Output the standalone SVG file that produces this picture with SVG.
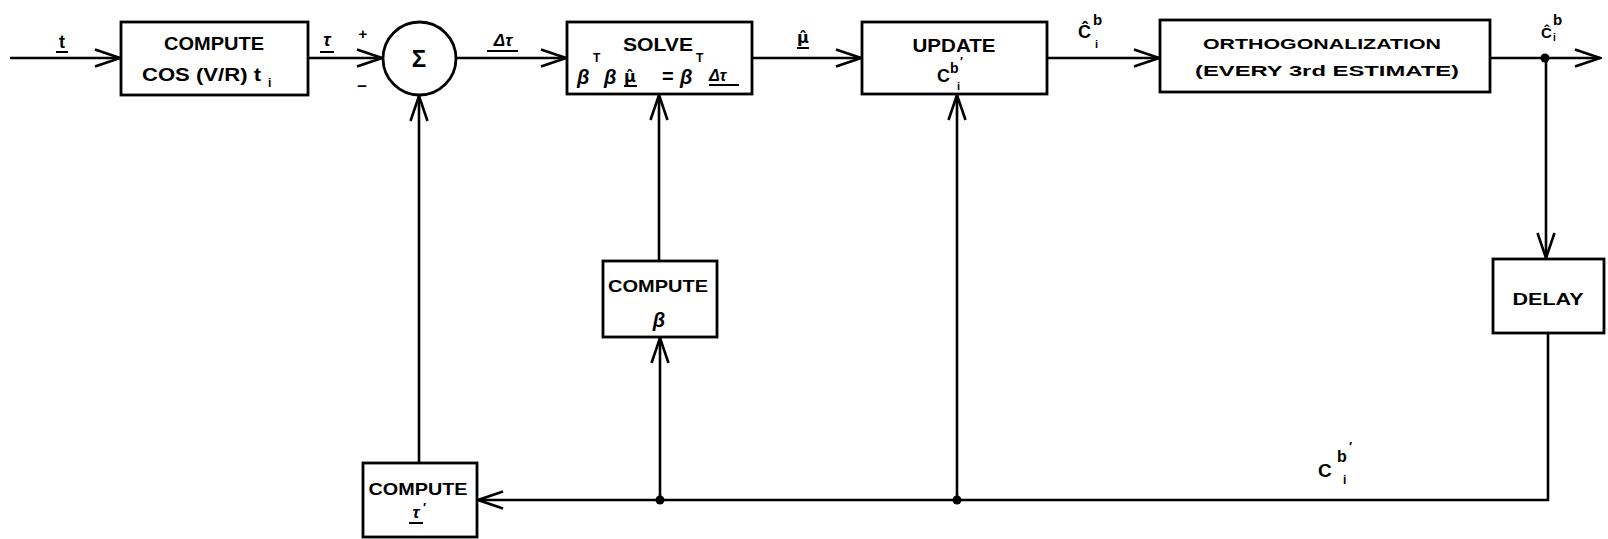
<svg xmlns="http://www.w3.org/2000/svg" width="1608" height="539" viewBox="0 0 1608 539">
<style>
.ln{stroke:#000;stroke-width:2.6;fill:none}
.box{fill:#fff;stroke:#000;stroke-width:2.8}
.t{font-family:"Liberation Sans",Arial,sans-serif;font-weight:bold;fill:#000}
.dj{font-family:"DejaVu Sans",sans-serif}
.c{text-anchor:middle}
.g{font-style:italic}
.ul{stroke:#000;stroke-width:2}
</style>
<defs>
<marker id="ah" viewBox="-27 -10 29 20" refX="0" refY="0" markerWidth="29" markerHeight="20" markerUnits="userSpaceOnUse" orient="auto">
<path d="M-25,-8.5 L0,0 L-25,8.5" fill="none" stroke="#000" stroke-width="2.6"/>
</marker>
</defs>
<rect width="1608" height="539" fill="#fff"/>

<g id="connectors">
<path class="ln" d="M10,58 H120" marker-end="url(#ah)"/>
<path class="ln" d="M308,58 H382" marker-end="url(#ah)"/>
<path class="ln" d="M456,58 H566" marker-end="url(#ah)"/>
<path class="ln" d="M752,58 H861" marker-end="url(#ah)"/>
<path class="ln" d="M1047,58 H1159" marker-end="url(#ah)"/>
<path class="ln" d="M1490,58 H1600" marker-end="url(#ah)"/>
<path class="ln" d="M1546,58 V258" marker-end="url(#ah)"/>
<path class="ln" d="M1548,333 V500 H478" marker-end="url(#ah)"/>
<path class="ln" d="M660,500 V338" marker-end="url(#ah)"/>
<path class="ln" d="M659,261 V95" marker-end="url(#ah)"/>
<path class="ln" d="M957,500 V95" marker-end="url(#ah)"/>
<path class="ln" d="M419,463 V96" marker-end="url(#ah)"/>
<circle cx="1545" cy="58" r="4.5" fill="#000"/>
<circle cx="660" cy="500" r="4.5" fill="#000"/>
<circle cx="957" cy="500" r="4.5" fill="#000"/>
</g>

<g id="labels">
<text class="t c" x="62" y="48" font-size="18">t</text>
<line class="ul" x1="56" y1="52" x2="68" y2="52"/>
<text class="t c g" x="327" y="46" font-size="18">τ</text>
<line class="ul" x1="320" y1="52" x2="334" y2="52"/>
<text class="t c" x="363" y="39" font-size="15">+</text>
<text class="t c" x="362" y="91" font-size="17">–</text>
<text class="t c g" x="503" y="46" font-size="17">Δτ</text>
<line class="ul" x1="487" y1="51" x2="518" y2="51"/>
<text class="t dj c" x="803" y="43" font-size="16">μ̂</text>
<line class="ul" x1="797" y1="48" x2="809" y2="48"/>
<text class="t" x="1078" y="38" font-size="18">Ĉ</text>
<text class="t" x="1093" y="25" font-size="15">b</text>
<text class="t" x="1095" y="48" font-size="11">i</text>
<text class="t" x="1541" y="38" font-size="15">Ĉ</text>
<text class="t" x="1553" y="25" font-size="15">b</text>
<text class="t" x="1553" y="41" font-size="10">i</text>
<text class="t" x="1318" y="477" font-size="19">C</text>
<text class="t" x="1337" y="462" font-size="16">b</text>
<text class="t" x="1349" y="451" font-size="13">′</text>
<text class="t" x="1343" y="484" font-size="12">i</text>
</g>

<g id="compute-cos">
<rect class="box" x="121" y="22" width="187" height="73"/>
<text class="t c" x="214" y="50" font-size="18" textLength="100" lengthAdjust="spacingAndGlyphs">COMPUTE</text>
<text class="t" x="142" y="81" font-size="18" textLength="119" lengthAdjust="spacingAndGlyphs">COS (V/R) t</text>
<text class="t" x="268" y="87" font-size="12">i</text>
</g>

<g id="sum">
<circle class="box" cx="419.5" cy="58.5" r="36.5"/>
<text class="t c" x="419" y="67" font-size="24">Σ</text>
</g>

<g id="solve">
<rect class="box" x="567" y="22" width="185" height="72"/>
<text class="t c" x="658" y="51" font-size="19" textLength="70" lengthAdjust="spacingAndGlyphs">SOLVE</text>
<text class="t g" x="577" y="84" font-size="20">β</text>
<text class="t" x="593" y="62" font-size="12">T</text>
<text class="t g" x="604" y="84" font-size="20">β</text>
<text class="t dj" x="624" y="82" font-size="16">μ̂</text>
<line class="ul" x1="624" y1="86" x2="637" y2="86"/>
<text class="t" x="662" y="83" font-size="20">=</text>
<text class="t g" x="680" y="84" font-size="20">β</text>
<text class="t" x="696" y="62" font-size="12">T</text>
<text class="t g" x="709" y="81" font-size="16">Δτ</text>
<line class="ul" x1="709" y1="85" x2="739" y2="85"/>
</g>

<g id="update">
<rect class="box" x="862" y="22" width="185" height="72"/>
<text class="t c" x="954" y="52" font-size="19" textLength="83" lengthAdjust="spacingAndGlyphs">UPDATE</text>
<text class="t" x="937" y="82" font-size="18">C</text>
<text class="t" x="950" y="73" font-size="14">b</text>
<text class="t" x="960" y="66" font-size="12">′</text>
<text class="t" x="957" y="90" font-size="11">i</text>
</g>

<g id="orthogonalization">
<rect class="box" x="1160" y="20" width="330" height="72"/>
<text class="t c" x="1322" y="49" font-size="14" font-weight="normal" textLength="238" lengthAdjust="spacingAndGlyphs">ORTHOGONALIZATION</text>
<text class="t c" x="1327" y="76" font-size="14" font-weight="normal" textLength="264" lengthAdjust="spacingAndGlyphs">(EVERY 3rd ESTIMATE)</text>
</g>

<g id="compute-beta">
<rect class="box" x="603" y="261" width="114" height="76"/>
<text class="t c" x="658" y="292" font-size="17" textLength="100" lengthAdjust="spacingAndGlyphs">COMPUTE</text>
<text class="t c g" x="659" y="327" font-size="20">β</text>
</g>

<g id="delay">
<rect class="box" x="1493" y="259" width="111" height="74"/>
<text class="t c" x="1548" y="305" font-size="17" textLength="71" lengthAdjust="spacingAndGlyphs">DELAY</text>
</g>

<g id="compute-tau">
<rect class="box" x="363" y="463" width="114" height="74"/>
<text class="t c" x="418" y="495" font-size="17" textLength="99" lengthAdjust="spacingAndGlyphs">COMPUTE</text>
<text class="t c g" x="416" y="518" font-size="17">τ</text>
<text class="t" x="423" y="512" font-size="13">′</text>
<line class="ul" x1="409" y1="523" x2="423" y2="523"/>
</g>
</svg>
